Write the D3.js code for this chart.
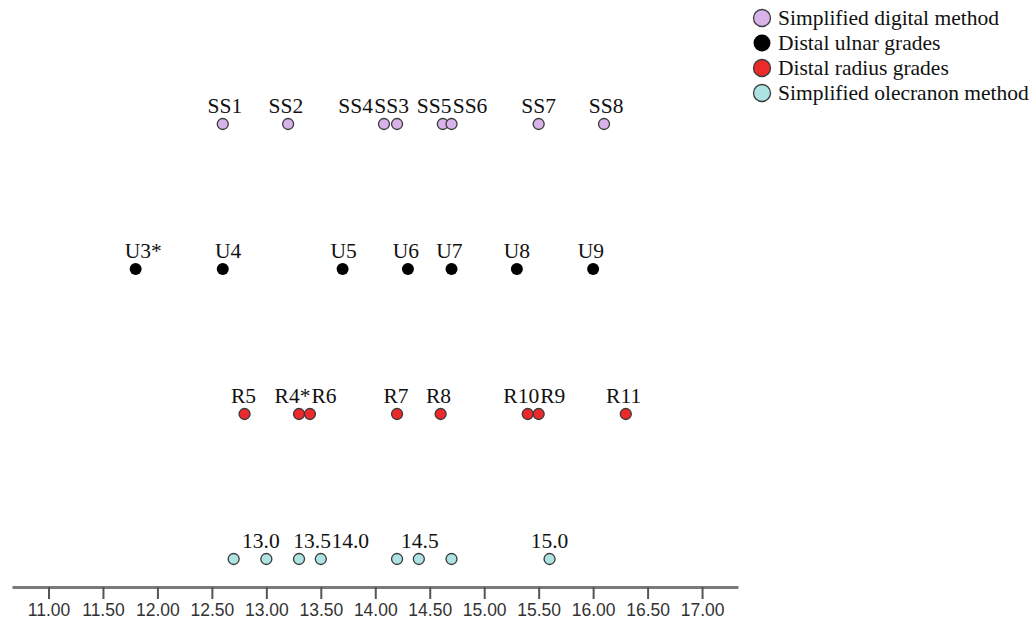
<!DOCTYPE html>
<html>
<head>
<meta charset="utf-8">
<script src="https://cdn.jsdelivr.net/npm/d3@7"></script>
<style>
  body { margin: 0; background: #fff; }
  svg { display: block; }
</style>
</head>
<body>
<div id="chart"></div>
<script>
// 数据：各方法的名称、数值及标签位置（数据单位）
const seriesNames = ["Simplified digital method", "Distal ulnar grades", "Distal radius grades", "Simplified olecranon method"];
const seriesColors = ["#d7b3ea", "#000000", "#ec2a2c", "#aee3e3"];

const ssLabels = ["SS1", "SS2", "SS4", "SS3", "SS5", "SS6", "SS7", "SS8"];
const ssValues = [12.6, 13.2, 14.08, 14.2, 14.62, 14.7, 15.5, 16.1];
const ssLabelAt = [12.62, 13.18, 13.82, 14.15, 14.54, 14.87, 15.5, 16.12];

const uLabels = ["U3*", "U4", "U5", "U6", "U7", "U8", "U9"];
const uValues = [11.8, 12.6, 13.7, 14.3, 14.7, 15.3, 16.0];
const uLabelAt = [11.87, 12.65, 13.71, 14.28, 14.68, 15.3, 15.98];

const rLabels = ["R5", "R4*", "R6", "R7", "R8", "R10", "R9", "R11"];
const rValues = [12.8, 13.3, 13.4, 14.2, 14.6, 15.4, 15.5, 16.3];
const rLabelAt = [12.79, 13.24, 13.53, 14.19, 14.58, 15.34, 15.63, 16.28];

const oValues = [12.7, 13.0, 13.3, 13.5, 14.2, 14.4, 14.7, 15.6];
const oLabels = ["13.0", "13.5", "14.0", "14.5", "15.0"];
const oLabelAt = [12.95, 13.42, 13.77, 14.41, 15.6];

const tickValues = [11, 11.5, 12, 12.5, 13, 13.5, 14, 14.5, 15, 15.5, 16, 16.5, 17];

const width = 1034, height = 625;
const serif = "'Liberation Serif', 'Times New Roman', serif";

const svg = d3.select("#chart").append("svg")
  .attr("width", width)
  .attr("height", height);

const x = d3.scaleLinear().domain([10.665, 17.33]).range([12, 738]);

// 四行：行序号 -> y 位置
const y = d3.scalePoint().domain([0, 1, 2, 3]).range([124, 559]);

const rows = [
  { values: ssValues, labels: ssLabels, labelAt: ssLabelAt },
  { values: uValues, labels: uLabels, labelAt: uLabelAt },
  { values: rValues, labels: rLabels, labelAt: rLabelAt },
  { values: oValues, labels: oLabels, labelAt: oLabelAt }
];

rows.forEach((row, i) => {
  const g = svg.append("g").attr("class", "row-" + i);
  const isBlack = i === 1;

  g.selectAll("circle")
    .data(row.values)
    .enter()
    .append("circle")
    .attr("cx", d => x(d))
    .attr("cy", y(i))
    .attr("r", isBlack ? 6 : 5.5)
    .attr("fill", seriesColors[i])
    .attr("stroke", isBlack ? "none" : "#3a3a3a")
    .attr("stroke-width", 1.3);

  g.selectAll("text")
    .data(row.labels)
    .enter()
    .append("text")
    .attr("x", (d, j) => x(row.labelAt[j]))
    .attr("y", y(i) - 11)
    .attr("text-anchor", "middle")
    .style("font-family", serif)
    .style("font-size", "21.5px")
    .attr("fill", "#111")
    .text(d => d);
});

// 坐标轴
const axis = d3.axisBottom(x)
  .tickValues(tickValues)
  .tickFormat(d3.format(".2f"))
  .tickSize(12)
  .tickSizeOuter(0)
  .tickPadding(5);

const axisG = svg.append("g")
  .attr("transform", "translate(0,587)")
  .call(axis);

axisG.select(".domain")
  .attr("stroke", "#7a7a7a")
  .attr("stroke-width", 3);

axisG.selectAll(".tick line")
  .attr("stroke", "#555")
  .attr("stroke-width", 2);

axisG.selectAll(".tick text")
  .style("font-family", "'Liberation Sans', Arial, sans-serif")
  .style("font-size", "17.5px")
  .attr("fill", "#333");

// 图例
const legend = svg.append("g").attr("class", "legend");
const legendY = d3.scalePoint().domain(d3.range(seriesNames.length)).range([18, 93]);

seriesNames.forEach((name, i) => {
  legend.append("circle")
    .attr("cx", 762)
    .attr("cy", legendY(i))
    .attr("r", 8.5)
    .attr("fill", seriesColors[i])
    .attr("stroke", i === 1 ? "none" : "#3a3a3a")
    .attr("stroke-width", 1.3);

  legend.append("text")
    .attr("x", 778)
    .attr("y", legendY(i) + 7)
    .style("font-family", serif)
    .style("font-size", "21.5px")
    .attr("fill", "#111")
    .text(name);
});
</script>
</body>
</html>
